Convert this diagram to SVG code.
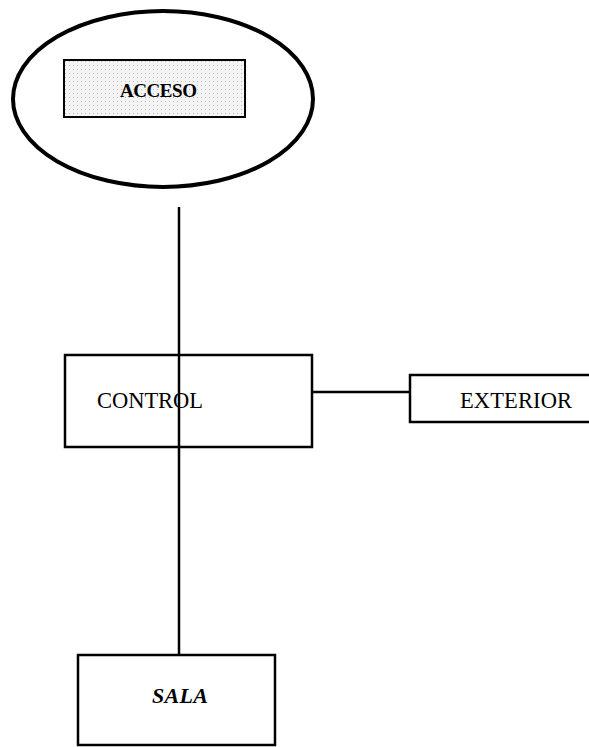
<svg xmlns="http://www.w3.org/2000/svg" width="589" height="747" viewBox="0 0 589 747">
<style>
.box{fill:#fff;stroke:#000;stroke-width:2.5}
.lbl{font-family:"Liberation Serif",serif;fill:#000}
.conn{stroke:#000;stroke-width:2.5;fill:none}
</style>
<defs>
<pattern id="dots" width="4" height="4" patternUnits="userSpaceOnUse">
<rect width="4" height="4" fill="#f4f4f4"/>
<rect x="1" y="1" width="1" height="1" fill="#bbb"/>
</pattern>
</defs>
<rect width="589" height="747" fill="#fff"/>
<g id="connectors">
<line class="conn" x1="179" y1="207" x2="179" y2="683"/>
<line class="conn" x1="312" y1="392" x2="410" y2="392"/>
</g>
<g id="acceso">
<ellipse cx="163" cy="99" rx="150" ry="88" fill="none" stroke="#000" stroke-width="4"/>
<rect x="64" y="60" width="181" height="57" fill="url(#dots)" stroke="#000" stroke-width="2"/>
<text class="lbl" x="120" y="97" font-size="19" font-weight="bold" textLength="77">ACCESO</text>
</g>
<g id="control">
<rect class="box" x="65" y="355" width="247" height="92" fill="none"/>
<line class="conn" x1="179" y1="355" x2="179" y2="447"/>
<text class="lbl" x="97" y="408" font-size="22.5" textLength="106">CONTROL</text>
</g>
<g id="exterior">
<rect class="box" x="410" y="375" width="190" height="47"/>
<text class="lbl" x="460" y="408" font-size="22.5" textLength="112">EXTERIOR</text>
</g>
<g id="sala">
<rect class="box" x="78" y="655" width="197" height="90" fill="none"/>
<text class="lbl" x="152" y="703" font-size="22" font-weight="bold" font-style="italic" textLength="56">SALA</text>
</g>
</svg>
